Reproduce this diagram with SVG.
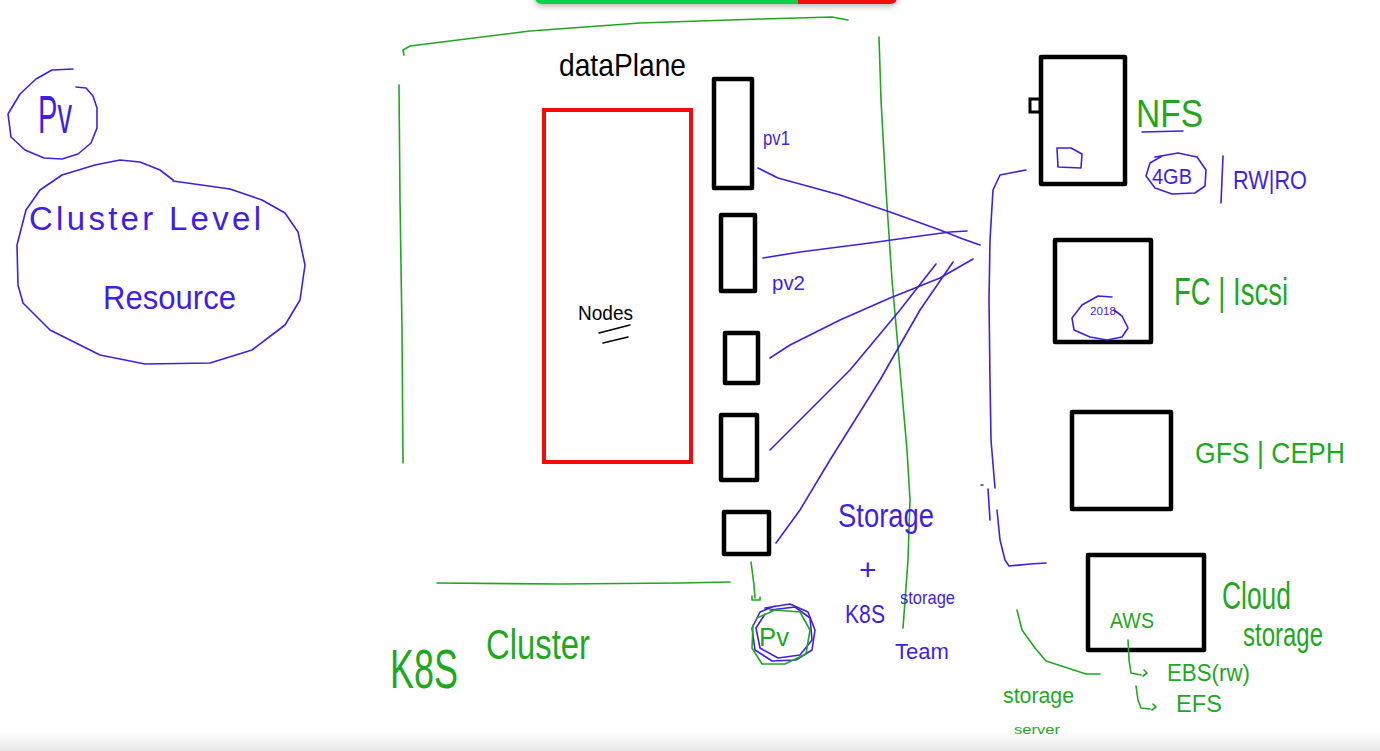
<svg xmlns="http://www.w3.org/2000/svg" width="1380" height="751" viewBox="0 0 1380 751">
<defs>
<style>
.b{fill:none;stroke:#3f1fe3;stroke-width:1.6;stroke-linecap:round;stroke-linejoin:round}
.g{fill:none;stroke:#1fa81f;stroke-width:1.6;stroke-linecap:round;stroke-linejoin:round}
.k{fill:#fff;stroke:#000;stroke-width:4.5;stroke-linejoin:round}
.tb{fill:#3f1fe3;font-family:"Liberation Sans",sans-serif}
.tg{fill:#1fa81f;font-family:"Liberation Sans",sans-serif}
.tk{fill:#000;font-family:"Liberation Sans",sans-serif}
</style>
<linearGradient id="bot" x1="0" y1="0" x2="0" y2="1">
<stop offset="0" stop-color="#ffffff"/>
<stop offset="1" stop-color="#e6e6e6"/>
</linearGradient>
<filter id="sh" x="-10%" y="-100%" width="120%" height="400%">
<feDropShadow dx="0" dy="2" stdDeviation="3" flood-color="#000" flood-opacity="0.3"/>
</filter>
</defs>
<rect width="1380" height="751" fill="#fff"/>
<rect x="0" y="733" width="1380" height="18" fill="url(#bot)"/>
<g id="toolbar" filter="url(#sh)">
<path d="M535 -8 H798 V4 H542 Q535 4 535 -3 Z" fill="#0bd04a"/>
<path d="M798 -8 H897 V-3 Q897 4 890 4 H798 Z" fill="#f40a0a"/>
</g>

<g id="pv-left">
<path class="b" d="M73 69 L52 70 L36 79 L20 94 L8 114 L11 137 L25 150 L44 158 L62 159 L78 154 L91 143 L97 128 L97 108 L93 96 L86 88 L76 87"/>
<text class="tb" x="38" y="133" font-size="54" textLength="34" lengthAdjust="spacingAndGlyphs">Pv</text>
</g>
<g id="cluster-level-resource">
<path class="b" d="M173 180 L160 170 L140 162 L120 160 L95 165 L62 175 L40 190 L26 210 L17 245 L18 285 L23 303 L50 330 L100 355 L145 364 L210 363 L252 350 L285 325 L300 300 L305 265 L298 232 L285 213 L262 200 L230 189 L173 181"/>
<text class="tb" x="29" y="230" font-size="33" textLength="232" lengthAdjust="spacing">Cluster Level</text>
<text class="tb" x="103" y="309" font-size="33" textLength="133" lengthAdjust="spacingAndGlyphs">Resource</text>
</g>

<g id="k8s-cluster">
<path class="g" d="M404 55 L403 50 L410 46 L530 31 L640 23 L760 19 L832 17 L848 20"/>
<path class="g" d="M399 85 L400 200 L402 330 L403 463"/>
<path class="g" d="M437 583 L560 584 L680 583 L730 582"/>
<text class="tg" x="390" y="688" font-size="56" textLength="68" lengthAdjust="spacingAndGlyphs">K8S</text>
<text class="tg" x="486" y="659" font-size="42" textLength="104" lengthAdjust="spacingAndGlyphs">Cluster</text>
</g>

<g id="dataplane">
<text class="tk" x="559" y="76" font-size="32" textLength="127" lengthAdjust="spacingAndGlyphs">dataPlane</text>
</g>

<g id="nodes">
<rect x="544" y="110" width="147" height="352" fill="#fff" stroke="#f40a0a" stroke-width="4"/>
<text class="tk" x="578" y="320" font-size="20" textLength="55" lengthAdjust="spacingAndGlyphs">Nodes</text>
<path fill="none" stroke="#000" stroke-width="1.5" stroke-linecap="round" d="M599 333 L630 325 M603 343 L628 337"/>
</g>

<g id="pv1">
<rect class="k" x="714" y="79" width="38" height="109"/>
<text class="tb" x="763" y="145" font-size="21" textLength="27" lengthAdjust="spacingAndGlyphs">pv1</text>
</g>
<g id="pv2">
<rect class="k" x="721" y="215" width="34" height="76"/>
<text class="tb" x="772" y="290" font-size="21" textLength="33" lengthAdjust="spacingAndGlyphs">pv2</text>
</g>
<g id="pv3"><rect class="k" x="725" y="333" width="33" height="50"/></g>
<g id="pv4"><rect class="k" x="721" y="415" width="36" height="65"/></g>
<g id="pv5"><rect class="k" x="724" y="512" width="45" height="42"/></g>

<g id="team-line">
<path class="g" d="M879 37 L881 100 L886 190 L892 280 L900 370 L907 450 L910 500 L908 560 L903 628"/>
</g>

<g id="pv-circled">
<path class="b" d="M765 608 L790 604 L808 612 L815 630 L812 650 L796 660 L772 661 L755 650 L752 628 L760 612 L775 606"/>
<path class="b" d="M770 610 L795 607 L810 618 L812 640 L800 655 L778 658 L760 648 L756 628 L765 614"/>
<path class="g" d="M757 618 L775 610 L800 612 L810 630 L806 654 L785 664 L762 664 L752 648 L753 625"/>
<text class="tg" x="759" y="646" font-size="26" textLength="30" lengthAdjust="spacingAndGlyphs">Pv</text>
</g>

<g id="storage-team">
<text class="tb" x="838" y="527" font-size="34" textLength="96" lengthAdjust="spacingAndGlyphs">Storage</text>
<text class="tb" x="859" y="580" font-size="30">+</text>
<text class="tb" x="845" y="623" font-size="26" textLength="40" lengthAdjust="spacingAndGlyphs">K8S</text>
<text class="tb" x="900" y="604" font-size="18" textLength="55" lengthAdjust="spacingAndGlyphs">storage</text>
<text class="tb" x="895" y="659" font-size="22" textLength="54" lengthAdjust="spacingAndGlyphs">Team</text>
</g>

<g id="nfs">
<rect class="k" x="1041" y="57" width="84" height="127"/>
<rect x="1030" y="99" width="10" height="13" fill="#fff" stroke="#000" stroke-width="3"/>
<path class="b" d="M1057 148 L1071 148 L1082 154 L1081 168 L1058 167 Z"/>
<text class="tg" x="1136" y="127" font-size="38" textLength="67" lengthAdjust="spacingAndGlyphs">NFS</text>
<path class="b" d="M1142 132 L1183 131"/>
<path class="b" d="M1155 157 L1178 153 L1197 157 L1206 170 L1205 186 L1195 193 L1172 194 L1155 188 L1146 176 L1150 163 L1162 156"/>
<text class="tb" x="1152" y="184" font-size="22" textLength="40" lengthAdjust="spacingAndGlyphs">4GB</text>
<path class="b" d="M1223 156 L1221 203"/>
<text class="tb" x="1233" y="189" font-size="25" textLength="74" lengthAdjust="spacingAndGlyphs">RW|RO</text>
</g>

<g id="fc-iscsi">
<rect class="k" x="1055" y="240" width="96" height="102"/>
<path class="b" d="M1112 297 L1098 296 L1082 305 L1072 318 L1074 330 L1090 337 L1107 340 L1122 337 L1128 328 L1122 316 L1114 310"/>
<text class="tb" x="1090" y="315" font-size="11" textLength="26" lengthAdjust="spacingAndGlyphs">2018</text>
<text class="tg" x="1174" y="305" font-size="38" textLength="114" lengthAdjust="spacingAndGlyphs">FC | Iscsi</text>
</g>

<g id="gfs-ceph">
<rect class="k" x="1072" y="412" width="99" height="97"/>
<text class="tg" x="1195" y="463" font-size="30" textLength="150" lengthAdjust="spacingAndGlyphs">GFS | CEPH</text>
</g>

<g id="cloud-storage">
<rect class="k" x="1088" y="555" width="116" height="95"/>
<text class="tg" x="1110" y="628" font-size="22" textLength="44" lengthAdjust="spacingAndGlyphs">AWS</text>
<path class="g" d="M1128 640 L1129 660 L1131 673 L1141 675 M1144 670 L1147 673 L1143 676"/>
<path class="g" d="M1136 686 L1138 700 L1141 708 L1150 709 M1153 704 L1156 707 L1152 710"/>
<text class="tg" x="1167" y="681" font-size="24" textLength="83" lengthAdjust="spacingAndGlyphs">EBS(rw)</text>
<text class="tg" x="1176" y="712" font-size="24" textLength="46" lengthAdjust="spacingAndGlyphs">EFS</text>
<text class="tg" x="1222" y="609" font-size="38" textLength="69" lengthAdjust="spacingAndGlyphs">Cloud</text>
<text class="tg" x="1243" y="646" font-size="34" textLength="80" lengthAdjust="spacingAndGlyphs">storage</text>
</g>

<g id="storage-server">
<text class="tg" x="1003" y="703" font-size="22" textLength="71" lengthAdjust="spacingAndGlyphs">storage</text>
<text class="tg" x="1014" y="734" font-size="13" textLength="46" lengthAdjust="spacingAndGlyphs">server</text>
</g>

<g id="connectors">
<path class="b" d="M758 168 L778 178 L840 195 L890 212 L940 230 L963 239 L980 245"/>
<path class="b" d="M763 258 L800 252 L870 243 L920 236 L950 232 L967 231"/>
<path class="b" d="M770 358 L790 345 L840 320 L890 298 L940 278 L973 259"/>
<path class="b" d="M770 450 L800 420 L850 370 L900 310 L936 264"/>
<path class="b" d="M776 543 L800 510 L830 460 L880 380 L920 310 L953 262"/>
<path class="b" d="M1026 170 L1000 175 L993 190 L990 240 L989 300 L990 380 L991 440 L995 488"/>
<path class="b" d="M981 485 L983 485 M988 489 L990 520 M997 510 L1000 540 L1005 560 L1009 566 L1030 564 L1046 563"/>
<path class="g" d="M1017 610 L1022 630 L1035 648 L1046 661 L1086 674 L1100 674"/>
<path class="g" d="M751 562 L754 585 L755 598 M752 596 L752 600 L760 600 L760 597"/>
</g>
</svg>
